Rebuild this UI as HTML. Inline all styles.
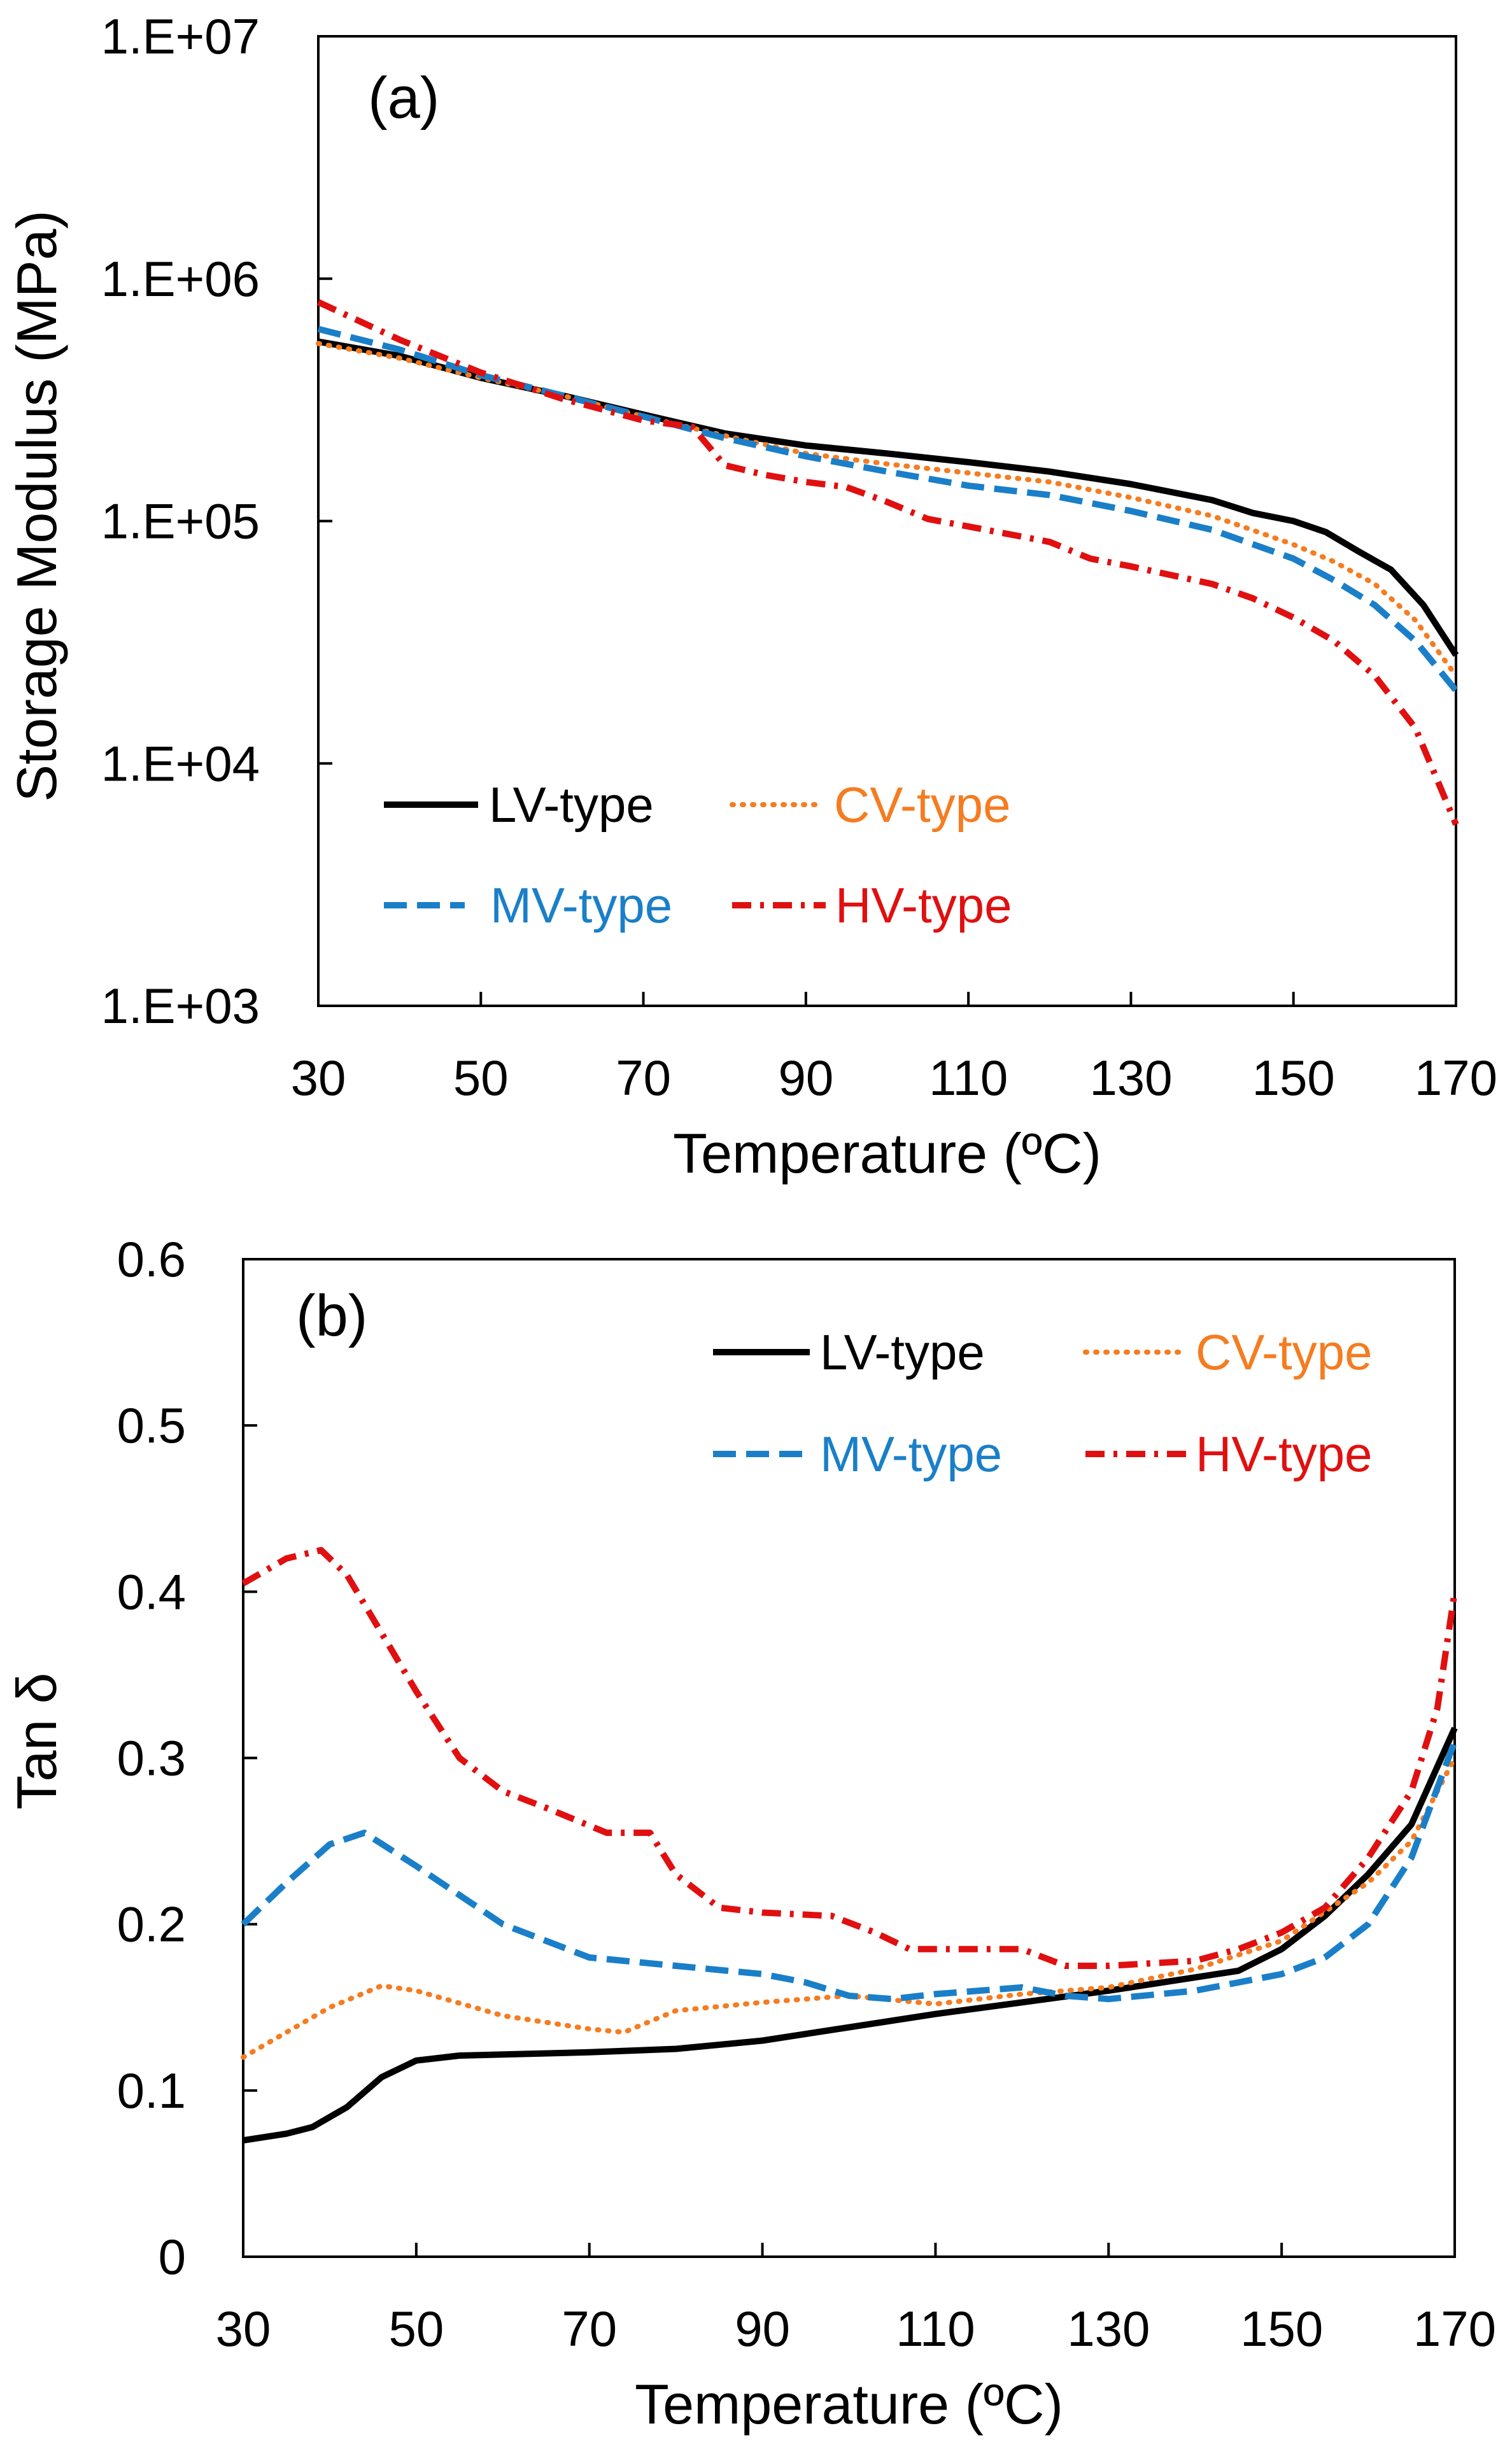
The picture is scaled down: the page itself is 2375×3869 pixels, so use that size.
<!DOCTYPE html>
<html><head><meta charset="utf-8"><style>
html,body{margin:0;padding:0;background:#fff}
svg{display:block}
text{font-family:"Liberation Sans",sans-serif}
</style></head><body>
<svg id="fig" width="2375" height="3869" viewBox="0 0 2375 3869" xmlns="http://www.w3.org/2000/svg">
<g id="ga"></g>
<g id="gb"></g>
</svg>
<script>
const NS='http://www.w3.org/2000/svg';
const xTicks=[30,50,70,90,110,130,150,170];
const aTickVals=[1e3,1e4,1e5,1e6,1e7];
const aTickLabels=['1.E+03','1.E+04','1.E+05','1.E+06','1.E+07'];
const bTickVals=[0,0.1,0.2,0.3,0.4,0.5,0.6];
const bTickLabels=['0','0.1','0.2','0.3','0.4','0.5','0.6'];
// Storage modulus
const aLV_T=[30,40,50,60,70,80,90,100,110,120,130,140,145,150,154,158,162,166,170];
const aLV_V=[5.5e5,4.8e5,3.9e5,3.3e5,2.75e5,2.3e5,2.05e5,1.9e5,1.75e5,1.6e5,1.42e5,1.22e5,1.08e5,1.0e5,9e4,7.5e4,6.3e4,4.5e4,2.8e4];
const aCV_T=[30,40,50,60,70,80,90,100,110,120,130,140,150,155,160,165,170];
const aCV_V=[5.4e5,4.7e5,3.9e5,3.3e5,2.7e5,2.25e5,1.9e5,1.72e5,1.58e5,1.45e5,1.25e5,1.05e5,8e4,6.8e4,5.5e4,3.9e4,2.3e4];
const aMV_T=[30,40,50,60,70,80,90,100,110,120,130,140,150,155,160,165,170];
const aMV_V=[6.2e5,5.1e5,4e5,3.3e5,2.7e5,2.2e5,1.85e5,1.6e5,1.4e5,1.28e5,1.1e5,9.2e4,7e4,5.7e4,4.5e4,3.2e4,2.0e4];
const aHV_T=[30,40,50,60,70,76,80,85,90,95,100,105,110,120,125,130,140,145,150,155,160,165,170];
const aHV_V=[8e5,5.6e5,4.1e5,3.2e5,2.6e5,2.45e5,1.7e5,1.55e5,1.45e5,1.38e5,1.2e5,1.02e5,9.5e4,8.2e4,7e4,6.5e4,5.5e4,4.8e4,4e4,3.2e4,2.3e4,1.4e4,5.6e3];
// Tan delta
const bLV_T=[30,35,38,42,46,50,55,70,80,90,100,110,120,130,140,145,150,155,160,165,170];
const bLV_V=[.07,.074,.078,.09,.108,.118,.121,.123,.125,.13,.138,.146,.153,.16,.168,.172,.185,.205,.23,.26,.318];
const bCV_T=[30,40,46,50,60,70,74,80,90,100,110,120,130,140,150,160,165,170];
const bCV_V=[.12,.15,.163,.16,.145,.137,.135,.148,.153,.157,.152,.158,.162,.173,.19,.225,.25,.3];
const bMV_T=[30,35,40,44,50,60,70,80,90,95,100,105,110,120,125,130,140,145,150,155,160,165,170];
const bMV_V=[.2,.225,.248,.255,.235,.2,.18,.175,.17,.165,.157,.155,.158,.162,.157,.155,.16,.165,.17,.18,.2,.24,.31];
const bHV_T=[30,35,39,42,46,50,55,60,65,72,77,80,85,90,98,103,107,120,125,130,140,145,150,155,160,165,168,170];
const bHV_V=[.405,.42,.425,.41,.375,.34,.3,.28,.27,.255,.255,.23,.21,.207,.205,.195,.185,.185,.175,.175,.178,.185,.195,.21,.24,.28,.33,.4];

function mk(p,tag,at,txt){const e=document.createElementNS(NS,tag);for(const k in at)e.setAttribute(k,at[k]);if(txt!==undefined)e.textContent=txt;p.appendChild(e);return e;}
const styles={
 lv:{stroke:'#000',dash:'',cap:'butt',c:'#000',w:10},
 cv:{stroke:'#f57c20',dash:'2 14',cap:'round',c:'#f57c20',w:8},
 mv:{stroke:'#1a7fc8',dash:'36 16',cap:'butt',c:'#1a7fc8',w:10},
 hv:{stroke:'#e01010',dash:'30 14 6 14',cap:'butt',c:'#e01010',w:10}
};
function chart(g,L,R,T,B,yfn,tickVals,tickLabels,labRight,series,panel,ytitle,ytX,ytY,legend){
 const xs=t=>L+(t-30)/140*(R-L);
 mk(g,'rect',{x:L,y:T,width:R-L,height:B-T,fill:'none',stroke:'#000','stroke-width':4});
 xTicks.forEach((t,i)=>{
  const tk=mk(g,'line',{x1:xs(t),x2:xs(t),y1:B,y2:B-22,stroke:'#000','stroke-width':4});
  
  const lb=mk(g,'text',{x:xs(t),y:B+140,'font-size':78,'text-anchor':'middle'},String(t));
  
 });
 tickVals.forEach((v,i)=>{
  const y=yfn(v);
  const tk=mk(g,'line',{x1:L,x2:L+22,y1:y,y2:y,stroke:'#000','stroke-width':4});
  
  const lb=mk(g,'text',{x:labRight,y:y+27,'font-size':78,'text-anchor':'end'},tickLabels[i]);
  
 });
 series.forEach(s=>{
  const st=styles[s.k];
  const d=s.t.map((t,i)=>(i?'L':'M')+xs(t).toFixed(1)+' '+yfn(s.v[i]).toFixed(1)).join(' ');
  const p=mk(g,'path',{d:d,fill:'none',stroke:st.stroke,'stroke-width':st.w,'stroke-dasharray':st.dash,'stroke-linecap':st.cap,'stroke-linejoin':'round'});
  
 });
 const pl=mk(g,'text',{x:panel[0],y:panel[1],'font-size':92},panel[2]);
 
 const xt=mk(g,'text',{x:(L+R)/2,y:B+262,'font-size':88,'text-anchor':'middle'},'Temperature  (ºC)');
 
 const yt=mk(g,'text',{x:0,y:0,'font-size':88,'text-anchor':'middle',transform:`translate(${ytX},${ytY}) rotate(-90)`},ytitle);
 
 legend.forEach(e=>{
  const st=styles[e.k];
  const lg=mk(g,'g',{});
  
  
  mk(lg,'line',{x1:e.x1,x2:e.x2,y1:e.y,y2:e.y,stroke:st.stroke,'stroke-width':st.w,'stroke-dasharray':st.dash,'stroke-linecap':st.cap});
  mk(lg,'text',{x:e.tx,y:e.y+27,'font-size':78,fill:st.c},e.label);
 });
}
const aL=500,aR=2287,aT=57,aB=1580;
chart(document.getElementById('ga'),aL,aR,aT,aB,
 v=>aB-(Math.log10(v)-3)/4*(aB-aT),aTickVals,aTickLabels,408,
 [{k:'lv',t:aLV_T,v:aLV_V},{k:'cv',t:aCV_T,v:aCV_V},{k:'mv',t:aMV_T,v:aMV_V},{k:'hv',t:aHV_T,v:aHV_V}],
 [578,185,'(a)'],'Storage Modulus (MPa)',88,795,
 [{k:'lv',x1:603,x2:751,y:1264,tx:768,label:'LV-type'},{k:'cv',x1:1150,x2:1287,y:1264,tx:1310,label:'CV-type'},
  {k:'mv',x1:603,x2:730,y:1422,tx:770,label:'MV-type'},{k:'hv',x1:1150,x2:1297,y:1422,tx:1312,label:'HV-type'}]);
const bL=382,bR=2285,bT=1978,bB=3545;
chart(document.getElementById('gb'),bL,bR,bT,bB,
 v=>bB-v/0.6*(bB-bT),bTickVals,bTickLabels,292,
 [{k:'lv',t:bLV_T,v:bLV_V},{k:'cv',t:bCV_T,v:bCV_V},{k:'mv',t:bMV_T,v:bMV_V},{k:'hv',t:bHV_T,v:bHV_V}],
 [465,2098,'(b)'],'Tan δ',88,2735,
 [{k:'lv',x1:1120,x2:1272,y:2124,tx:1288,label:'LV-type'},{k:'cv',x1:1705,x2:1858,y:2124,tx:1878,label:'CV-type'},
  {k:'mv',x1:1120,x2:1272,y:2284,tx:1288,label:'MV-type'},{k:'hv',x1:1705,x2:1868,y:2284,tx:1878,label:'HV-type'}]);
</script>
</body></html>
